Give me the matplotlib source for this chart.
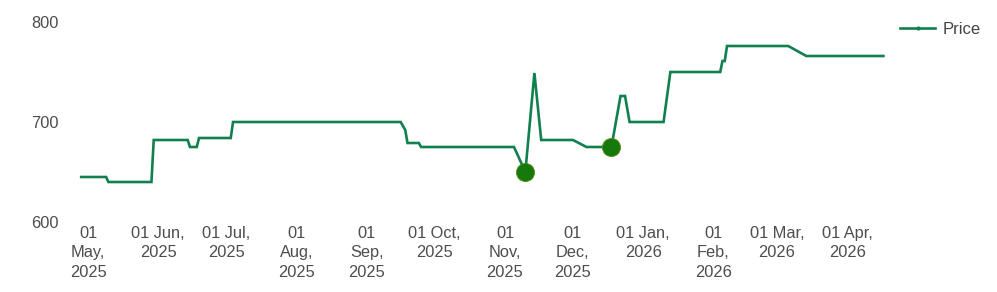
import matplotlib
matplotlib.use('Agg')
import matplotlib.pyplot as plt
from matplotlib.lines import Line2D
import pandas as pd

plt.rcParams['font.family'] = ['Liberation Sans', 'DejaVu Sans']

# --- data ---
dates = ['2025-04-28', '2025-05-09', '2025-05-10', '2025-05-29', '2025-05-30',
         '2025-06-14', '2025-06-15', '2025-06-18', '2025-06-19', '2025-07-03',
         '2025-07-04', '2025-09-16', '2025-09-18', '2025-09-19', '2025-09-24',
         '2025-09-25', '2025-11-05', '2025-11-10', '2025-11-14', '2025-11-17',
         '2025-12-01', '2025-12-07', '2025-12-18', '2025-12-22', '2025-12-24',
         '2025-12-26', '2026-01-10', '2026-01-13', '2026-02-04', '2026-02-05',
         '2026-02-06', '2026-02-07', '2026-03-06', '2026-03-14', '2026-04-17']
prices = [645, 645, 640, 640, 682,
          682, 675, 675, 684, 684,
          700, 700, 692, 679, 679,
          675, 675, 650, 749, 682,
          682, 675, 675, 726, 726,
          700, 700, 750, 750, 761,
          761, 776, 776, 766, 766]

low_dates = ['2025-11-10', '2025-12-18']
low_prices = [650, 675]

tick_dates = ['2025-05-01', '2025-06-01', '2025-07-01', '2025-08-01', '2025-09-01',
              '2025-10-01', '2025-11-01', '2025-12-01', '2026-01-01', '2026-02-01',
              '2026-03-01', '2026-04-01']
tick_labels = ['01\nMay,\n2025', '01 Jun,\n2025', '01 Jul,\n2025', '01\nAug,\n2025',
               '01\nSep,\n2025', '01 Oct,\n2025', '01\nNov,\n2025', '01\nDec,\n2025',
               '01 Jan,\n2026', '01\nFeb,\n2026', '01 Mar,\n2026', '01 Apr,\n2026']

x = pd.to_datetime(dates)
W, H = 997, 292
fig = plt.figure(figsize=(W / 100, H / 100), dpi=100)
# axes spans px 75..890 horizontally, 22..222 vertically
ax = fig.add_axes([75 / W, (H - 222) / H, (890 - 75) / W, 200 / H])

line_color = '#11804f'
ax.plot(x, prices, color=line_color, linewidth=1.9, solid_joinstyle='miter')
ax.scatter(pd.to_datetime(low_dates), low_prices, s=170, color='#17790b',
           edgecolors='#5f8a1a', linewidths=0.6, zorder=5)

start = pd.Timestamp('2025-05-01')
px_per_day = 2.266
ax.set_xlim(start + pd.Timedelta(days=(75 - 88) / px_per_day),
            start + pd.Timedelta(days=(890 - 88) / px_per_day))
ax.set_ylim(600, 800)

ax.set_yticks([600, 700, 800])
ax.set_xticks(pd.to_datetime(tick_dates))
ax.set_xticklabels(tick_labels, linespacing=1.35)
ax.tick_params(axis='x', length=0, pad=3, labelsize=11.8, colors='#4d4d4d')
ax.tick_params(axis='y', length=0, pad=12, labelsize=11.8, colors='#4d4d4d')
for s in ax.spines.values():
    s.set_visible(False)

handle = Line2D([], [], color=line_color, linewidth=1.9, marker='o', markersize=2)
ax.legend([handle], ['Price'], loc='center left', bbox_to_anchor=(900 / W, (H - 29) / H),
          bbox_transform=fig.transFigure, frameon=False, fontsize=12,
          handlelength=2.1, handletextpad=0.45, borderaxespad=0, borderpad=0,
          labelcolor='#444444')

fig.savefig('out.png', dpi=100)
